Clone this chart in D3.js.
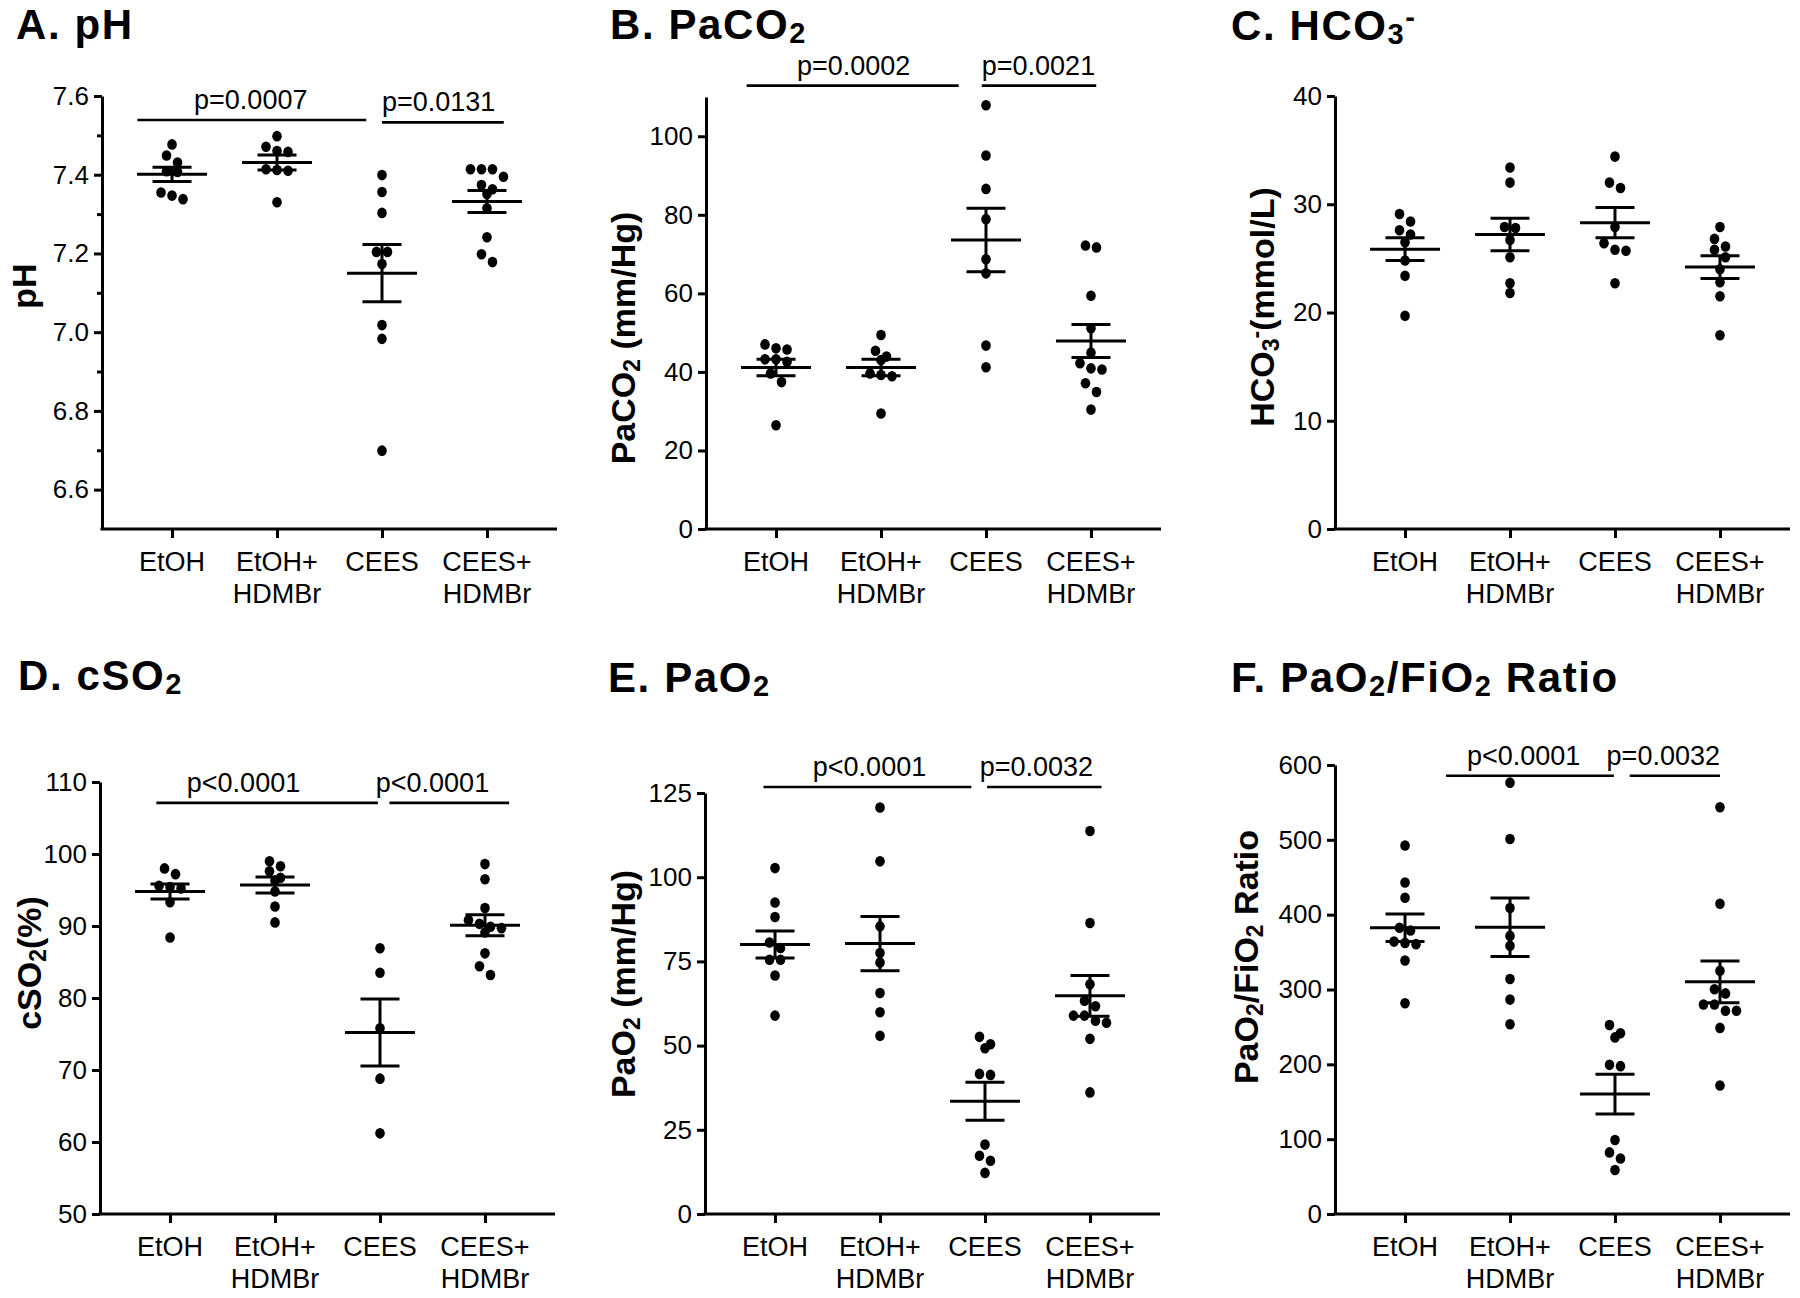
<!DOCTYPE html>
<html>
<head>
<meta charset="utf-8">
<script src="https://cdn.jsdelivr.net/npm/d3@7"></script>
<style>
  body { margin: 0; background: #fff; }
  svg text { font-family: "Liberation Sans", Arial, Helvetica, sans-serif; fill: #000; }
</style>
</head>
<body>
<svg id="fig" width="1800" height="1298"></svg>
<script>
// groups on the x axis ("|" = line break)
var groups = ["EtOH", "EtOH+|HDMBr", "CEES", "CEES+|HDMBr"];

// A. pH
var phValues = [
  [7.477, 7.449, 7.431, 7.409, 7.407, 7.355, 7.347, 7.338],
  [7.498, 7.471, 7.460, 7.458, 7.414, 7.412, 7.410, 7.330],
  [7.399, 7.356, 7.303, 7.204, 7.204, 7.173, 7.018, 6.983, 6.699],
  [7.414, 7.414, 7.414, 7.395, 7.374, 7.363, 7.351, 7.315, 7.241, 7.198, 7.178]
];
var phMean = [7.401, 7.431, 7.150, 7.332];
var phSem = [0.018, 0.019, 0.073, 0.028];
var phTicks = [6.6, 6.8, 7.0, 7.2, 7.4, 7.6];
var phMinor = [6.7, 6.9, 7.1, 7.3, 7.5];
var phSig = [
  {from: -0.33, to: 1.85, at: 0.75, y: 7.539, label: "p=0.0007"},
  {from: 2.0, to: 3.16, at: 2.54, y: 7.533, label: "p=0.0131"}
];

// B. PaCO2
var paco2Values = [
  [47.0, 46.0, 45.7, 43.2, 43.2, 42.6, 39.6, 37.4, 26.4],
  [49.4, 45.4, 43.9, 43.0, 39.6, 39.2, 38.9, 29.4],
  [107.9, 95.1, 86.6, 78.9, 68.7, 65.1, 46.7, 41.2],
  [72.2, 71.7, 59.4, 51.1, 44.9, 42.2, 40.9, 40.6, 37.1, 34.9, 30.4]
];
var paco2Mean = [41.1, 41.1, 73.6, 47.9];
var paco2Sem = [2.1, 2.1, 8.1, 4.2];
var paco2Ticks = [0, 20, 40, 60, 80, 100];
var paco2Sig = [
  {from: -0.28, to: 1.74, at: 0.74, y: 112.9, label: "p=0.0002"},
  {from: 1.96, to: 3.05, at: 2.50, y: 112.9, label: "p=0.0021"}
];

// C. HCO3-
var hco3Values = [
  [29.1, 28.4, 27.6, 27.2, 26.5, 24.8, 23.4, 19.7],
  [33.4, 32.0, 27.9, 27.8, 26.7, 25.1, 22.7, 21.8],
  [34.4, 32.0, 31.5, 27.9, 26.4, 25.8, 25.7, 22.7],
  [27.9, 26.8, 26.1, 25.8, 25.1, 24.0, 22.8, 21.5, 17.9]
];
var hco3Mean = [25.85, 27.2, 28.3, 24.2];
var hco3Sem = [1.05, 1.5, 1.4, 1.05];
var hco3Ticks = [0, 10, 20, 30, 40];
var hco3Sig = [];

// D. cSO2
var cso2Values = [
  [98.0, 97.2, 95.6, 95.4, 95.2, 93.3, 88.4],
  [99.0, 98.3, 97.6, 96.7, 96.3, 94.8, 92.7, 90.5],
  [86.9, 83.5, 75.8, 68.8, 61.2],
  [98.6, 96.5, 92.5, 90.8, 90.3, 89.9, 89.7, 89.1, 86.2, 84.4, 83.2]
];
var cso2Mean = [94.8, 95.7, 75.2, 90.1];
var cso2Sem = [1.05, 1.1, 4.65, 1.45];
var cso2Ticks = [50, 60, 70, 80, 90, 100, 110];
var cso2Sig = [
  {from: -0.13, to: 1.98, at: 0.70, y: 107.1, label: "p<0.0001"},
  {from: 2.09, to: 3.23, at: 2.50, y: 107.1, label: "p<0.0001"}
];

// E. PaO2
var pao2Values = [
  [102.7, 92.5, 88.2, 80.6, 79.0, 75.5, 75.5, 70.8, 58.9],
  [120.7, 104.7, 85.4, 77.5, 74.7, 65.6, 59.9, 52.9],
  [52.6, 50.4, 49.2, 41.6, 41.3, 20.6, 17.3, 15.8, 12.2],
  [113.7, 86.4, 68.2, 63.3, 61.7, 58.9, 58.9, 57.4, 56.8, 52.0, 36.1]
];
var pao2Mean = [80.0, 80.3, 33.5, 64.8];
var pao2Sem = [4.0, 8.05, 5.65, 6.05];
var pao2Ticks = [0, 25, 50, 75, 100, 125];
var pao2Sig = [
  {from: -0.11, to: 1.87, at: 0.90, y: 126.8, label: "p<0.0001"},
  {from: 2.02, to: 3.11, at: 2.49, y: 126.8, label: "p=0.0032"}
];

// F. PaO2/FiO2 ratio
var ratioValues = [
  [492.4, 443.0, 422.7, 382.6, 378.8, 364.0, 362.3, 360.6, 338.7, 281.6],
  [576.4, 501.2, 409.0, 371.6, 358.5, 314.0, 286.5, 253.6],
  [252.5, 241.5, 236.0, 199.3, 197.6, 98.8, 82.3, 74.1, 58.7],
  [543.5, 414.5, 325.0, 300.3, 294.8, 280.0, 280.0, 271.7, 271.7, 248.7, 171.8]
];
var ratioMean = [382.6, 383.2, 160.3, 310.2];
var ratioSem = [18.3, 39.2, 26.6, 28.0];
var ratioTicks = [0, 100, 200, 300, 400, 500, 600];
var ratioSig = [
  {from: 0.39, to: 1.99, at: 1.13, y: 585.7, label: "p<0.0001"},
  {from: 2.14, to: 3.0, at: 2.46, y: 585.7, label: "p=0.0032"}
];

var svg = d3.select("#fig");

var panels = [
  {title: [["A. pH"]], ylab: [["pH"]], values: phValues, mean: phMean, sem: phSem,
   domain: [6.5, 7.6], ticks: phTicks, minor: phMinor, fmt: d3.format(".1f"), sig: phSig,
   left: 102, top: 96, bottom: 529, tx: 16, ty: 39, lx: 24, ly: 286},
  {title: [["B. PaCO"], ["2", "sub"]], ylab: [["PaCO"], ["2", "sub"], [" (mm/Hg)"]],
   values: paco2Values, mean: paco2Mean, sem: paco2Sem,
   domain: [0, 110], ticks: paco2Ticks, minor: [], fmt: d3.format("d"), sig: paco2Sig,
   left: 706, top: 97, bottom: 529, tx: 610, ty: 39, lx: 623, ly: 338},
  {title: [["C. HCO"], ["3", "sub"], ["-", "sup"]], ylab: [["HCO"], ["3", "sub"], ["-", "sup"], ["(mmol/L)"]],
   values: hco3Values, mean: hco3Mean, sem: hco3Sem,
   domain: [0, 40], ticks: hco3Ticks, minor: [], fmt: d3.format("d"), sig: hco3Sig,
   left: 1335, top: 96, bottom: 529, tx: 1231, ty: 40, lx: 1262, ly: 307},
  {title: [["D. cSO"], ["2", "sub"]], ylab: [["cSO"], ["2", "sub"], ["(%)"]],
   values: cso2Values, mean: cso2Mean, sem: cso2Sem,
   domain: [50, 110], ticks: cso2Ticks, minor: [], fmt: d3.format("d"), sig: cso2Sig,
   left: 100, top: 782, bottom: 1214, tx: 18, ty: 690, lx: 29, ly: 963},
  {title: [["E. PaO"], ["2", "sub"]], ylab: [["PaO"], ["2", "sub"], [" (mm/Hg)"]],
   values: pao2Values, mean: pao2Mean, sem: pao2Sem,
   domain: [0, 125], ticks: pao2Ticks, minor: [], fmt: d3.format("d"), sig: pao2Sig,
   left: 705, top: 793, bottom: 1214, tx: 608, ty: 692, lx: 623, ly: 984},
  {title: [["F. PaO"], ["2", "sub"], ["/FiO"], ["2", "sub"], [" Ratio"]], ylab: [["PaO"], ["2", "sub"], ["/FiO"], ["2", "sub"], [" Ratio"]],
   values: ratioValues, mean: ratioMean, sem: ratioSem,
   domain: [0, 600], ticks: ratioTicks, minor: [], fmt: d3.format("d"), sig: ratioSig,
   left: 1335, top: 765, bottom: 1214, tx: 1231, ty: 692, lx: 1246, ly: 957}
];

// put segments (plain / sub / sup) into a text element
function rich(text, parts, size, subShift) {
  parts.forEach(function(p) {
    var t = text.append("tspan").text(p[0]);
    if (p[1] == "sub") t.attr("baseline-shift", (-subShift * size) + "px").style("font-size", Math.round(size * 0.68) + "px");
    if (p[1] == "sup") t.attr("baseline-shift", (0.3 * size) + "px").style("font-size", Math.round(size * 0.68) + "px");
  });
}

// GraphPad-like scatter: points close in y share a row, row is centred on the group
function swarm(vals, y, cx, gap) {
  var sorted = vals.slice().sort(function(a, b) { return b - a; });
  var rows = [];
  sorted.forEach(function(v) {
    var last = rows[rows.length - 1];
    if (last && Math.abs(y(v) - y(last[0])) < 9) last.push(v);
    else rows.push([v]);
  });
  var out = [];
  rows.forEach(function(r) {
    r.forEach(function(v, k) {
      out.push({v: v, x: cx + (k - (r.length - 1) / 2) * gap});
    });
  });
  return out;
}

panels.forEach(function(p) {
  var g = svg.append("g");
  var width = 455;

  var x = d3.scalePoint().domain(d3.range(groups.length))
    .range([p.left, p.left + width]).padding(0.667);
  var xf = function(v) { return x(0) + v * x.step(); };
  var y = d3.scaleLinear().domain(p.domain).range([p.bottom, p.top]);

  // title
  var title = g.append("text").attr("x", p.tx).attr("y", p.ty)
    .style("font-size", "42px").style("font-weight", "bold").style("letter-spacing", "1.6px");
  rich(title, p.title, 42, 0.1);

  // y axis
  var ya = g.append("g").attr("transform", "translate(" + p.left + ",0)")
    .call(d3.axisLeft(y).tickValues(p.ticks).tickFormat(p.fmt).tickSize(8).tickSizeOuter(0).tickPadding(5));
  if (p.minor.length) {
    g.append("g").attr("transform", "translate(" + p.left + ",0)")
      .call(d3.axisLeft(y).tickValues(p.minor).tickFormat("").tickSize(5).tickSizeOuter(0))
      .select(".domain").remove();
  }

  // x axis
  var xa = g.append("g").attr("transform", "translate(0," + p.bottom + ")")
    .call(d3.axisBottom(x).tickSize(9).tickSizeOuter(0).tickFormat(""));
  xa.select(".domain").attr("d", "M" + (p.left - 1.5) + ",0H" + (p.left + width));

  g.selectAll(".domain, .tick line").attr("stroke", "#000").attr("stroke-width", 3);
  ya.selectAll(".tick text").style("font-size", "26px").style("font-family", "'Liberation Sans', Arial, sans-serif");

  // group labels
  groups.forEach(function(name, i) {
    name.split("|").forEach(function(line, j) {
      g.append("text").attr("x", x(i)).attr("y", p.bottom + 42 + j * 32)
        .attr("text-anchor", "middle").style("font-size", "27px").text(line);
    });
  });

  // y label
  var yl = g.append("text")
    .attr("transform", "translate(" + p.lx + "," + p.ly + ") rotate(-90)")
    .attr("text-anchor", "middle").attr("dy", "0.36em")
    .style("font-size", "34px").style("font-weight", "bold");
  rich(yl, p.ylab, 34, 0.15);

  // dots
  p.values.forEach(function(vals, i) {
    g.append("g").selectAll("ellipse")
      .data(swarm(vals, y, x(i), 11))
      .enter().append("ellipse")
      .attr("cx", function(d) { return d.x; })
      .attr("cy", function(d) { return y(d.v); })
      .attr("rx", 4.8).attr("ry", 5.3)
      .attr("fill", "#000");
  });

  // mean and SEM
  var bars = g.append("g").attr("stroke", "#000").attr("stroke-width", 3);
  p.mean.forEach(function(m, i) {
    var cx = x(i), hi = y(m + p.sem[i]), lo = y(m - p.sem[i]);
    bars.append("line").attr("x1", cx - 35).attr("x2", cx + 35).attr("y1", y(m)).attr("y2", y(m));
    bars.append("line").attr("x1", cx - 19.5).attr("x2", cx + 19.5).attr("y1", hi).attr("y2", hi);
    bars.append("line").attr("x1", cx - 19.5).attr("x2", cx + 19.5).attr("y1", lo).attr("y2", lo);
    bars.append("line").attr("x1", cx).attr("x2", cx).attr("y1", hi).attr("y2", lo);
  });

  // significance brackets
  p.sig.forEach(function(s) {
    g.append("line").attr("x1", xf(s.from)).attr("x2", xf(s.to))
      .attr("y1", y(s.y)).attr("y2", y(s.y))
      .attr("stroke", "#000").attr("stroke-width", 2.6);
    g.append("text").attr("x", xf(s.at)).attr("y", y(s.y) - 11)
      .attr("text-anchor", "middle").style("font-size", "27px").text(s.label);
  });
});
</script>
</body>
</html>
